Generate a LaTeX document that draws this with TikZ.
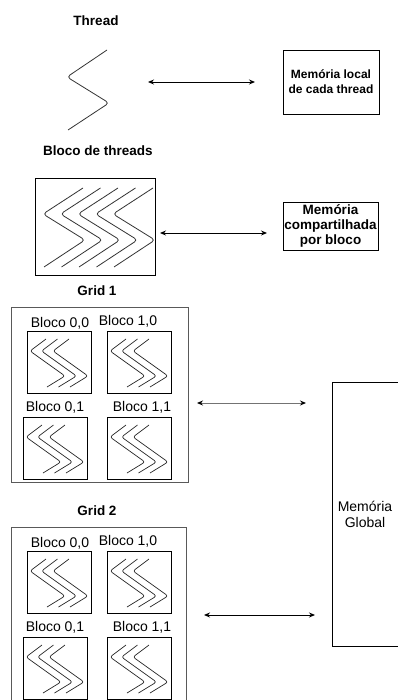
\documentclass[tikz,border=0pt]{standalone}
\usepackage{fontspec}
\setmainfont{Liberation Sans}
\usetikzlibrary{arrows.meta}

\tikzset{
  thr/.style={draw=black!80, line width=0.8pt, rounded corners=3.5pt},
  minithr/.style={draw=black!85, line width=0.7pt, rounded corners=2.5pt},
  box/.style={draw=black, line width=0.8pt},
  gridbox/.style={draw=black!65, line width=0.9pt},
  tip/.style={Stealth[length=6pt,width=5pt,color=black]},
  link/.style={line width=0.9pt, {Stealth[length=6pt,width=5pt,color=black]}-{Stealth[length=6pt,width=5pt,color=black]}},
  title/.style={font=\fontsize{13.5}{15}\selectfont\bfseries, inner sep=0pt},
  lbl/.style={font=\fontsize{14}{16}\selectfont, inner sep=0pt},
}

% a block of the grid: frame plus three threads
\newcommand\subblock[3]{%
  \node[box, minimum width=64pt, minimum height=62pt, inner sep=0pt, anchor=north west] (#3) at (#1,#2) {};
  \foreach \i in {0,1,2}{
    \draw[minithr] ({#1+19+11.5*\i},{#2+8}) -- ({#1+3+11.5*\i},{#2+20})
      -- ({#1+38+11.5*\i},{#2+45}) -- ({#1+20+11.5*\i},{#2+56});
  }%
}

\begin{document}
\begin{tikzpicture}[x=1pt,y=-1pt]
\useasboundingbox (0,0) rectangle (398,700);
\clip (0,0) rectangle (398,700);

% ---------- single thread ----------
\node[title] (tThread) at (96,21) {Thread};
\draw[thr] (107,50) -- (67,77) -- (109,103) -- (68,130);
\node[box, minimum width=96pt, minimum height=64pt, inner sep=0pt,
      font=\fontsize{12}{15}\selectfont\bfseries, align=center]
      (local) at (331,82) {Memória local\\de cada thread};
\coordinate (a1) at (148,82);
\coordinate (b1) at (255,82);
\draw[link] (a1) -- (b1);

% ---------- block of threads ----------
\node[title] (tBlock) at (98,151) {Bloco de threads};
\node[box, minimum width=120pt, minimum height=97pt, inner sep=0pt] (block) at (95,226.5) {};
\foreach \i in {0,...,4}{
  \draw[thr] ({83+17.5*\i},188) -- ({43+17.5*\i},214) -- ({85+17.5*\i},240) -- ({44+17.5*\i},267);
}
\node[box, minimum width=95pt, minimum height=48pt, inner sep=0pt,
      font=\fontsize{13.5}{15}\selectfont\bfseries, align=center]
      (shared) at (330.5,226) {Memória\\compartilhada\\por bloco};
\coordinate (a2) at (160,233);
\coordinate (b2) at (267,233);
\draw[link] (a2) -- (b2);

% ---------- grid 1 ----------
\node[title] (tGrid1) at (97,291) {Grid 1};
\draw[gridbox] (11,307) rectangle (188,482);
\node[lbl] (g1l00) at (60,323) {Bloco 0,0};
\node[lbl] (g1l10) at (128,321) {Bloco 1,0};
\node[lbl] (g1l01) at (55,407) {Bloco 0,1};
\node[lbl] (g1l11) at (142,407) {Bloco 1,1};
\subblock{27}{331}{g1b00}
\subblock{107}{331}{g1b10}
\subblock{23}{417}{g1b01}
\subblock{107}{417}{g1b11}

% ---------- grid 2 ----------
\node[title] (tGrid2) at (97,511) {Grid 2};
\draw[gridbox] (11,527) rectangle (186,720);
\node[lbl] (g2l00) at (60,543) {Bloco 0,0};
\node[lbl] (g2l10) at (128,541) {Bloco 1,0};
\node[lbl] (g2l01) at (55,627) {Bloco 0,1};
\node[lbl] (g2l11) at (142,627) {Bloco 1,1};
\subblock{27}{551}{g2b00}
\subblock{107}{551}{g2b10}
\subblock{23}{637}{g2b01}
\subblock{107}{637}{g2b11}

% ---------- global memory ----------
\draw[box] (332,382) rectangle (420,646);
\node[lbl, align=center] (global) at (365,514) {Memória\\Global};

\coordinate (a3) at (197,403);
\coordinate (b3) at (306,403);
\draw[link, draw=black!55] (a3) -- (b3);
\coordinate (a4) at (204,615);
\coordinate (b4) at (315,615);
\draw[link] (a4) -- (b4);
\end{tikzpicture}
\end{document}
